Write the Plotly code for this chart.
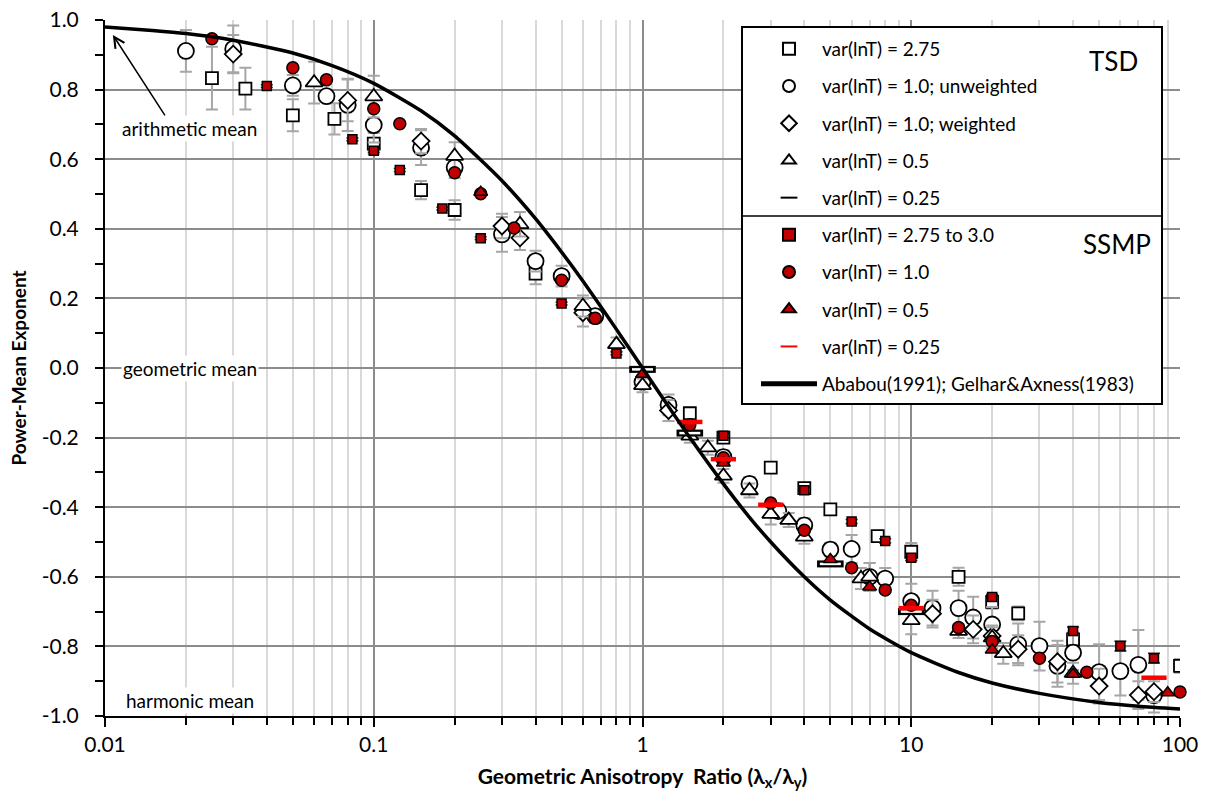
import math
import plotly.graph_objects as go

# ---------------------------------------------------------------
# Power-mean exponent vs. geometric anisotropy ratio
# ---------------------------------------------------------------

# TSD, var(lnT) = 2.75
tsd_sq_x = [0.025, 0.0333, 0.05, 0.0714, 0.1, 0.15, 0.2, 0.4, 1.5, 2, 3, 4, 5, 7.5, 10, 15, 20, 25, 40, 100]
tsd_sq_y = [0.833, 0.803, 0.726, 0.716, 0.645, 0.511, 0.454, 0.271, -0.130, -0.200, -0.286, -0.345,
            -0.406, -0.483, -0.528, -0.600, -0.672, -0.705, -0.780, -0.856]
tsd_sq_err = [0.09, 0.06, 0.046, 0.045, 0.03, 0.026, 0.028, 0.03, None, 0.012, None, 0.012,
              None, None, 0.025, 0.026, 0.02, 0.02, 0.02, 0.02]

# TSD, var(lnT) = 1.0 unweighted
tsd_ci_x = [0.02, 0.03, 0.05, 0.0667, 0.08, 0.1, 0.15, 0.2, 0.3, 0.4, 0.5, 0.667, 1, 1.25, 2, 2.5,
            3.2, 4, 5, 6, 7, 8, 10, 12, 15, 17, 20, 25, 30, 35, 40, 50, 60, 70, 80]
tsd_ci_y = [0.911, 0.917, 0.812, 0.781, 0.756, 0.698, 0.633, 0.576, 0.384, 0.307, 0.264, 0.149,
            -0.040, -0.106, -0.256, -0.333, -0.411, -0.452, -0.522, -0.520, -0.600, -0.605,
            -0.670, -0.690, -0.690, -0.717, -0.737, -0.794, -0.799, -0.856, -0.818, -0.874,
            -0.871, -0.853, -0.940]
tsd_ci_err = [0.06, 0.067, 0.03, None, 0.075, 0.05, 0.05, 0.03, 0.05, 0.03, 0.03, 0.02, 0.02, 0.03,
              0.02, 0.02, 0.02, 0.02, 0.02, 0.04, 0.04, 0.03, 0.05, 0.05, 0.05, 0.06, 0.05, 0.06,
              0.07, 0.06, 0.05, 0.08, 0.07, 0.10, 0.05]

# TSD, var(lnT) = 1.0 weighted
tsd_di_x = [0.03, 0.08, 0.15, 0.3, 0.35, 0.6, 1.25, 12, 17, 20, 25, 35, 50, 70, 80]
tsd_di_y = [0.902, 0.769, 0.652, 0.408, 0.374, 0.159, -0.122, -0.706, -0.751, -0.770, -0.808,
            -0.844, -0.914, -0.940, -0.930]
tsd_di_err = [0.055, 0.06, 0.035, 0.035, 0.035, 0.04, 0.03, 0.04, 0.04, 0.03, 0.04, 0.06, 0.05,
              0.04, 0.03]

# TSD, var(lnT) = 0.5
tsd_tr_x = [0.06, 0.1, 0.2, 0.35, 0.6, 0.8, 1, 1.5, 1.75, 2, 2.5, 3, 3.5, 4, 6.5, 7, 10, 15, 20, 22, 40]
tsd_tr_y = [0.820, 0.780, 0.609, 0.413, 0.178, 0.068, -0.050, -0.195, -0.229, -0.310, -0.352,
            -0.420, -0.437, -0.485, -0.605, -0.600, -0.725, -0.756, -0.775, -0.820, -0.877]
tsd_tr_err = [0.06, 0.06, 0.04, 0.035, 0.03, 0.02, 0.02, 0.02, 0.02, 0.02, 0.02, 0.03, 0.02, 0.02,
              0.03, 0.04, 0.04, 0.02, 0.03, 0.03, 0.03]

# TSD, var(lnT) = 0.25
tsd_da_x = [1, 1.5, 5, 10]
tsd_da_y = [-0.004, -0.187, -0.563, -0.700]

# SSMP, var(lnT) = 2.75 to 3.0
ssmp_sq_x = [0.04, 0.0833, 0.1, 0.125, 0.18, 0.25, 0.5, 0.8, 2, 4, 6, 8, 10, 20, 40, 60, 80]
ssmp_sq_y = [0.810, 0.657, 0.624, 0.569, 0.458, 0.373, 0.185, 0.042, -0.195, -0.351, -0.441,
             -0.497, -0.545, -0.658, -0.756, -0.799, -0.834]
ssmp_sq_err = [0.004, 0.004, 0.004, 0.004, 0.004, 0.004, 0.004, 0.004, 0.006, 0.008, 0.006,
               0.006, 0.008, 0.008, 0.012, 0.014, 0.014]

# SSMP, var(lnT) = 1.0
ssmp_ci_x = [0.025, 0.05, 0.0667, 0.1, 0.125, 0.2, 0.25, 0.333, 0.5, 0.667, 1.5, 2, 3, 4, 6, 8,
             10, 15, 20, 30, 45, 100]
ssmp_ci_y = [0.946, 0.863, 0.828, 0.745, 0.702, 0.561, 0.501, 0.402, 0.252, 0.143, -0.163,
             -0.258, -0.388, -0.466, -0.574, -0.638, -0.682, -0.746, -0.786, -0.834, -0.874, -0.931]

# SSMP, var(lnT) = 0.5
ssmp_tr_x = [0.25, 1, 2, 5, 7, 20, 40, 90]
ssmp_tr_y = [0.505, -0.018, -0.273, -0.550, -0.629, -0.810, -0.880, -0.933]

# SSMP, var(lnT) = 0.25
ssmp_da_x = [1.5, 2, 3, 10, 80]
ssmp_da_y = [-0.155, -0.262, -0.393, -0.690, -0.890]

# Ababou (1991); Gelhar & Axness (1983) theoretical curve
theory_x = [0.01, 0.015, 0.02, 0.03, 0.05, 0.07, 0.1, 0.15, 0.2, 0.3, 0.4, 0.5, 0.6, 0.7, 0.8, 1,
            1.25, 1.5, 2, 2.5, 3, 4, 5, 7, 10, 15, 20, 30, 50, 70, 100]
theory_y = [0.980, 0.970, 0.961, 0.942, 0.905, 0.869, 0.818, 0.739, 0.667, 0.538, 0.429, 0.333,
            0.250, 0.176, 0.111, 0.000, -0.111, -0.200, -0.333, -0.429, -0.500, -0.600, -0.667,
            -0.750, -0.818, -0.875, -0.905, -0.935, -0.961, -0.972, -0.980]

# axis ticks
x_tick_vals = [0.01, 0.1, 1, 10, 100]
x_tick_text = ["0.01", "0.1", "1", "10", "100"]
y_tick_vals = [1.0, 0.8, 0.6, 0.4, 0.2, 0.0, -0.2, -0.4, -0.6, -0.8, -1.0]
y_tick_text = ["1.0", "0.8", "0.6", "0.4", "0.2", "0.0", "-0.2", "-0.4", "-0.6", "-0.8", "-1.0"]

FONT = "Lato, 'Open Sans', sans-serif"
RED = "#C00000"
ERR = "#A6A6A6"
MAJOR_GRID = "#8C8C8C"
MINOR_GRID = "#D9D9D9"


def err(vals, color=ERR, thick=2, width=6):
    return dict(type="data", array=vals, visible=True, color=color, thickness=thick, width=width)


def open_marker(symbol, size):
    return dict(symbol=symbol, size=size, color="white", line=dict(color="black", width=1.8))


def red_marker(symbol, size):
    return dict(symbol=symbol, size=size, color=RED, line=dict(color="black", width=1.5))


fig = go.Figure()

fig.add_trace(go.Scatter(x=tsd_sq_x, y=tsd_sq_y, mode="markers", name="var(lnT) = 2.75",
                         legendgroup="g1", marker=open_marker("square", 12), error_y=err(tsd_sq_err)))
fig.add_trace(go.Scatter(x=tsd_ci_x, y=tsd_ci_y, mode="markers", name="var(lnT) = 1.0; unweighted",
                         legendgroup="g2", marker=open_marker("circle", 16), error_y=err(tsd_ci_err)))
fig.add_trace(go.Scatter(x=tsd_di_x, y=tsd_di_y, mode="markers", name="var(lnT) = 1.0; weighted",
                         legendgroup="g3", marker=open_marker("diamond", 13), error_y=err(tsd_di_err)))
fig.add_trace(go.Scatter(x=tsd_tr_x, y=tsd_tr_y, mode="markers", name="var(lnT) = 0.5",
                         legendgroup="g4", marker=open_marker("triangle-up", 15), error_y=err(tsd_tr_err)))
fig.add_trace(go.Scatter(x=tsd_da_x, y=tsd_da_y, mode="markers", name="var(lnT) = 0.25",
                         legendgroup="g5",
                         marker=dict(symbol="line-ew", size=19, line=dict(color="black", width=7))))
# hollow centre of the TSD 0.25 bars
fig.add_trace(go.Scatter(x=tsd_da_x, y=tsd_da_y, mode="markers", showlegend=False,
                         legendgroup="g5", hoverinfo="skip",
                         marker=dict(symbol="line-ew", size=15, line=dict(color="white", width=2.5))))

fig.add_trace(go.Scatter(x=ssmp_sq_x, y=ssmp_sq_y, mode="markers", name="var(lnT) = 2.75 to 3.0",
                         legendgroup="g6", marker=red_marker("square", 9),
                         error_y=err(ssmp_sq_err, color="#262626", thick=1.5, width=6)))
fig.add_trace(go.Scatter(x=ssmp_ci_x, y=ssmp_ci_y, mode="markers", name="var(lnT) = 1.0",
                         legendgroup="g7", marker=red_marker("circle", 12), cliponaxis=False))
fig.add_trace(go.Scatter(x=ssmp_tr_x, y=ssmp_tr_y, mode="markers", name="var(lnT) = 0.5",
                         legendgroup="g8", marker=red_marker("triangle-up", 12), cliponaxis=False))
fig.add_trace(go.Scatter(x=ssmp_da_x, y=ssmp_da_y, mode="markers", name="var(lnT) = 0.25",
                         legendgroup="g9",
                         marker=dict(symbol="line-ew", size=18, line=dict(color="#FF0000", width=4.5))))

fig.add_trace(go.Scatter(x=theory_x, y=theory_y, mode="lines", name="Ababou(1991); Gelhar&Axness(1983)",
                         legendgroup="g10", line=dict(color="black", width=3.5, shape="spline", smoothing=0.6)))

# minor ticks 2..9 in every decade
minor_vals = [m * 10 ** e for e in range(-2, 2) for m in range(2, 10)]

fig.update_xaxes(
    type="log", range=[-2, 2], automargin=False,
    tickvals=x_tick_vals, ticktext=x_tick_text,
    ticks="outside", ticklen=9, tickwidth=2, tickcolor="black",
    showline=True, linecolor="black", linewidth=2,
    showgrid=True, gridcolor=MAJOR_GRID, gridwidth=2,
    minor=dict(tickvals=minor_vals, ticks="outside", ticklen=7, tickwidth=2, tickcolor="black",
               showgrid=True, gridcolor=MINOR_GRID, gridwidth=2),
    tickfont=dict(family=FONT, size=21, color="black"),
    title=dict(text="<b>Geometric Anisotropy  Ratio (λ<sub>x</sub>/λ<sub>y</sub>)</b>",
               font=dict(family=FONT, size=21, color="black"), standoff=14),
    zeroline=False,
)
fig.update_yaxes(
    range=[-1, 1], automargin=False,
    tickvals=y_tick_vals, ticktext=y_tick_text,
    ticks="outside", ticklen=8, tickwidth=2, tickcolor="black",
    showline=True, linecolor="black", linewidth=2,
    showgrid=True, gridcolor=MAJOR_GRID, gridwidth=2,
    minor=dict(dtick=0.1, ticks="outside", ticklen=8, tickwidth=2, tickcolor="black", showgrid=False),
    tickfont=dict(family=FONT, size=21, color="black"),
    ticklabelstandoff=12,
    title=dict(text="<b>Power-Mean Exponent</b>", font=dict(family=FONT, size=19, color="black"),
               standoff=10),
    zeroline=False,
)

# legend frame geometry (paper coordinates of the plotting area)
L, T, W, H = 105, 20, 1075, 696


def px_x(p):
    return (p - L) / W


def px_y(p):
    return (T + H - p) / H


box_x0, box_x1 = px_x(742), px_x(1162)
box_y0, box_y1 = px_y(404), px_y(27)

shapes = [
    dict(type="rect", xref="paper", yref="paper", x0=box_x0, x1=box_x1, y0=box_y0, y1=box_y1,
         fillcolor="white", line=dict(color="black", width=2), layer="above"),
    dict(type="line", xref="paper", yref="paper", x0=box_x0, x1=box_x1, y0=px_y(216), y1=px_y(216),
         line=dict(color="black", width=1.5), layer="above"),
]

annotations = [
    dict(xref="paper", yref="paper", x=px_x(1113), y=px_y(61), text="TSD", showarrow=False,
         xanchor="center", yanchor="middle", font=dict(family=FONT, size=26, color="black")),
    dict(xref="paper", yref="paper", x=px_x(1117), y=px_y(244), text="SSMP", showarrow=False,
         xanchor="center", yanchor="middle", font=dict(family=FONT, size=26, color="black")),
    dict(x=math.log10(0.0207), y=0.687, text="arithmetic mean", showarrow=False,
         xanchor="center", yanchor="middle",
         bgcolor="white", font=dict(family=FONT, size=19, color="black")),
    dict(x=math.log10(0.0207), y=0.0, text="geometric mean", showarrow=False,
         xanchor="center", yanchor="middle",
         bgcolor="white", font=dict(family=FONT, size=19, color="black")),
    dict(x=math.log10(0.0207), y=-0.955, text="harmonic mean", showarrow=False,
         xanchor="center", yanchor="middle",
         bgcolor="white", font=dict(family=FONT, size=19, color="black")),
    dict(x=math.log10(0.0107), y=0.957, ax=53, ay=82, text="", showarrow=True,
         arrowhead=5, arrowsize=1.4, arrowwidth=1.5, arrowcolor="black"),
]

fig.update_layout(
    width=1207, height=803,
    margin=dict(l=L, r=1207 - L - W, t=T, b=803 - T - H),
    paper_bgcolor="white", plot_bgcolor="white",
    font=dict(family=FONT, color="black"),
    shapes=shapes, annotations=annotations,
    legend=dict(x=px_x(756), y=px_y(30), xanchor="left", yanchor="top",
                bgcolor="rgba(0,0,0,0)", borderwidth=0,
                font=dict(family=FONT, size=19, color="black"),
                itemwidth=56, itemsizing="constant", traceorder="grouped", tracegroupgap=9.5),
    showlegend=True,
)

fig.write_html("out.html")
